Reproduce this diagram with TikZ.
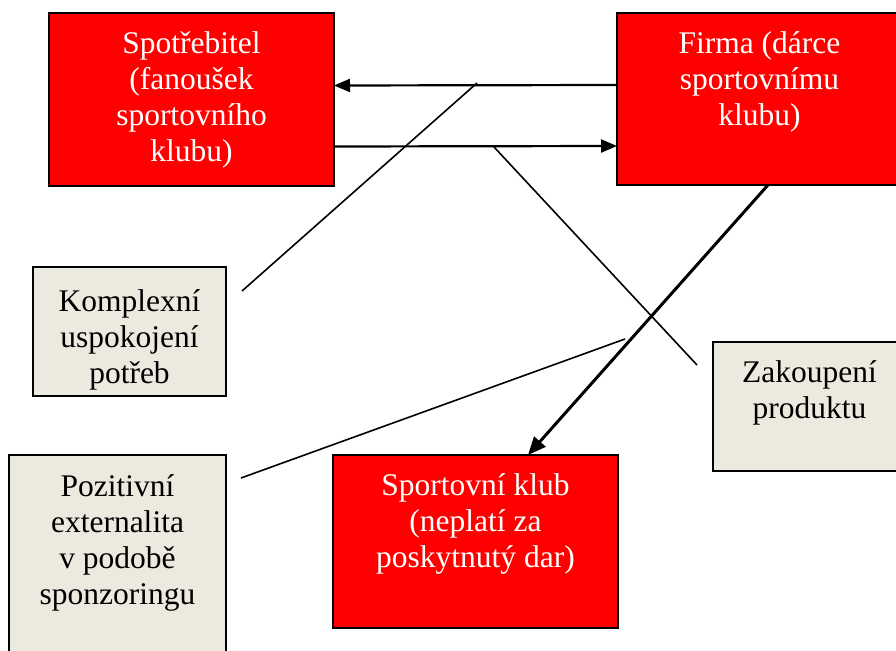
\documentclass[tikz,border=0pt]{standalone}
\usepackage{fontspec}
\setmainfont{Liberation Serif}
\usepackage{xcolor}
\usetikzlibrary{arrows.meta}

\definecolor{tanfill}{RGB}{236,233,222}

\tikzset{
  redbox/.style={draw=black, line width=1.5pt, fill=red, inner sep=0pt, outer sep=0pt},
  tanbox/.style={draw=black, line width=1.5pt, fill=tanfill, inner sep=0pt, outer sep=0pt},
  boxtext/.style={anchor=north, align=center, inner sep=0pt, font=\fontsize{31.5}{36}\selectfont},
  callout/.style={line width=1.6pt},
  flow/.style={line width=2.2pt, -{Triangle[length=16pt,width=13pt]}},
}

\begin{document}
\begin{tikzpicture}[x=1pt, y=-1pt]
				\useasboundingbox (0,0) rectangle (896,650);
				% red boxes
				\node [redbox, minimum width=285pt, minimum height=173pt] (spot) at (191.5,99.5) {};
				\node [boxtext, white] (spottext) at ([yshift=-18.5pt]spot.north) {Spotřebitel\\(fanoušek\\sportovního\\klubu)};
				\node [redbox, minimum width=285pt, minimum height=172pt] (firma) at (759.5,99) {};
				\node [boxtext, white] (firmatext) at ([yshift=-18.5pt]firma.north) {Firma (dárce\\sportovnímu\\klubu)};
				\node [redbox, minimum width=285pt, minimum height=173pt] (klub) at (475.5,541.5) {};
				\node [boxtext, white] (klubtext) at ([yshift=-18.5pt]klub.north) {Sportovní klub\\(neplatí za\\poskytnutý dar)};
				% tan boxes
				\node [tanbox, minimum width=193pt, minimum height=129pt] (komplex) at (129.5,331.5) {};
				\node [boxtext] (komplextext) at ([yshift=-22.5pt]komplex.north) {Komplexní\\uspokojení\\potřeb};
				\node [tanbox, minimum width=193pt, minimum height=129pt] (zakoup) at (809.5,406.5) {};
				\node [boxtext] (zakouptext) at ([yshift=-18.5pt]zakoup.north) {Zakoupení\\produktu};
				\node [tanbox, minimum width=217pt, minimum height=230pt] (pozit) at (117.5,570) {};
				\node [boxtext] (pozittext) at ([yshift=-19pt]pozit.north) {Pozitivní\\externalita\\v podobě\\sponzoringu};
				% flows
				\draw [flow] ([yshift=14pt]firma.west) -- ([yshift=14pt]spot.east);
				\draw [flow] ([yshift=-47pt]spot.east) -- ([yshift=-47pt]firma.west);
				\draw [flow, line width=3pt, -{Triangle[length=18pt,width=15pt]}] ([xshift=8.5pt]firma.south) -- ([xshift=52.5pt]klub.north);
				% callouts
				\coordinate (komplexend) at (477,83);
				\coordinate (zakoupend) at (494,147);
				\coordinate (pozitend) at (625,339);
				\draw [callout] ([shift={(16pt,40.5pt)}]komplex.east) -- (komplexend);
				\draw [callout] ([shift={(-16pt,41.5pt)}]zakoup.west) -- (zakoupend);
				\draw [callout] ([shift={(15pt,-23pt)}]pozit.north east) -- (pozitend);
				\end{tikzpicture}
\end{document}
